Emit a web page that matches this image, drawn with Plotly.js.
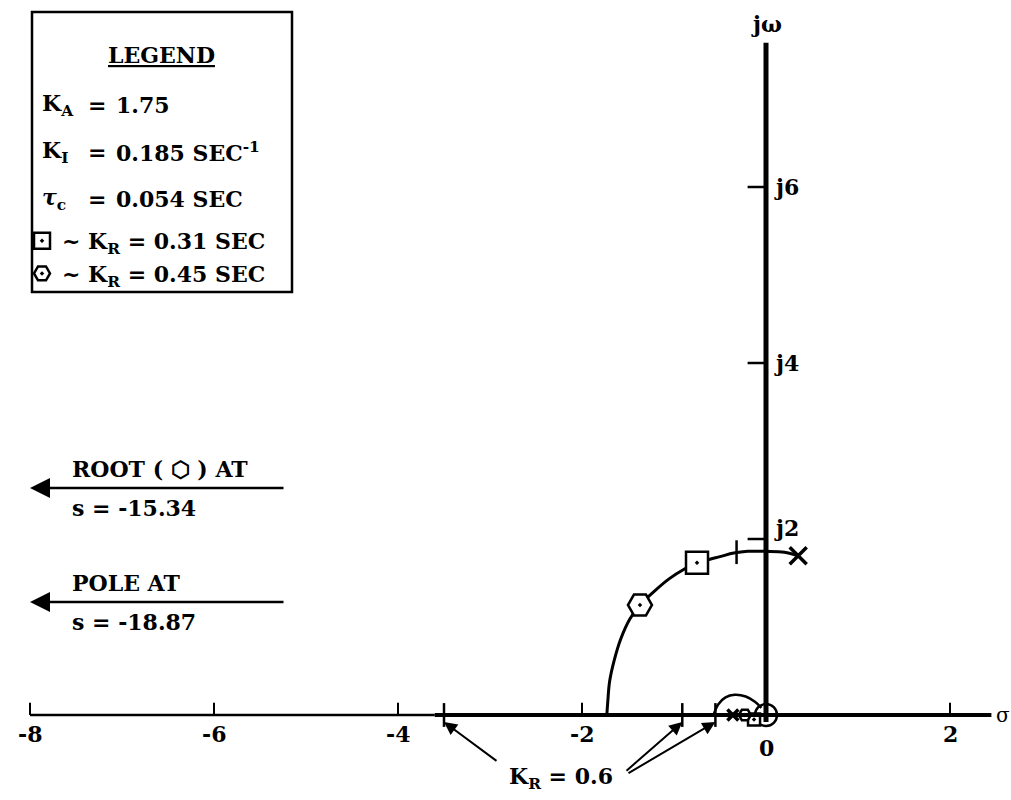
<!DOCTYPE html>
<html><head><meta charset="utf-8">
<script src="https://cdn.plot.ly/plotly-3.0.1.min.js"></script>
<style>html,body{margin:0;padding:0;background:#fff}</style>
</head><body><div id="chart" style="width:1011px;height:800px"></div>
<script>
// ---- data ----
const branchSigma = [0.35, 0.2, 0.0, -0.2, -0.35, -0.5, -0.65, -0.75, -0.9, -1.05, -1.2, -1.37, -1.48, -1.58, -1.65, -1.70, -1.72, -1.73];
const branchOmega = [1.81, 1.85, 1.86, 1.86, 1.84, 1.80, 1.76, 1.73, 1.65, 1.55, 1.42, 1.25, 1.09, 0.86, 0.62, 0.38, 0.15, 0.0];
const loopSigma = [-0.57, -0.52, -0.44, -0.34, -0.22, -0.12, -0.05];
const loopOmega = [0.0, 0.12, 0.2, 0.23, 0.21, 0.15, 0.08];
const poleSigma = [0.35, -0.36];
const poleOmega = [1.81, 0.0];
const zeroSigma = [0];
const zeroOmega = [0];
const rootK031Sigma = [-0.75, -0.13];
const rootK031Omega = [1.73, -0.05];
const rootK045Sigma = [-1.37, -0.23];
const rootK045Omega = [1.25, 0.0];
const gainTickSigma = [-3.5, -0.91, -0.55, -0.32];
const gainTickOmega = [0, 0, 0, 1.85];
const realTicks = [-8, -6, -4, -2, 0, 2];
const realTickLabels = ['-8', '-6', '-4', '-2', '0', '2'];
const imagTicks = [2, 4, 6];
const imagTickLabels = ['j2', 'j4', 'j6'];
const realAxisExtent = [-8, 2.45];
const imagAxisExtent = [0, 7.64];
const legendTitle = '<u>LEGEND</u>';
const paramLabels = ['K<sub>A</sub>', 'K<sub>I</sub>', '<i>τ</i><sub>c</sub>'];
const paramValues = ['1.75', '0.185 SEC<sup>-1</sup>', '0.054 SEC'];
const rootLabels = ['~ K<sub>R</sub> = 0.31 SEC', '~ K<sub>R</sub> = 0.45 SEC'];
const offLabels = ['ROOT ( ⬡ ) AT', 'POLE AT'];
const offValues = ['s = -15.34', 's = -18.87'];
const gainLabel = 'K<sub>R</sub> = 0.6';

// ---- pixel helpers (layout positions only) ----
const X = px => (px - 766) / 92;
const Y = py => (715 - py) / 88;
const FONT = {family: 'DejaVu Serif', size: 22, color: '#000', weight: 'bold'};
const BLACK = '#000';

const traces = [
  {x: branchSigma, y: branchOmega, mode: 'lines', line: {color: BLACK, width: 3, shape: 'spline'}, showlegend: false, hoverinfo: 'skip'},
  {x: loopSigma, y: loopOmega, mode: 'lines', line: {color: BLACK, width: 2.5, shape: 'spline'}, showlegend: false, hoverinfo: 'skip'},
  {x: gainTickSigma, y: gainTickOmega, mode: 'markers', marker: {symbol: 'line-ns-open', size: 17, color: BLACK, opacity: 1, line: {color: BLACK, width: 2.5}}, showlegend: false, cliponaxis: false},
  {x: poleSigma, y: poleOmega, mode: 'markers', marker: {symbol: 'x-thin-open', size: [17, 11], color: BLACK, opacity: 1, line: {color: BLACK, width: 3.5}}, showlegend: false, cliponaxis: false},
  {x: zeroSigma, y: zeroOmega, mode: 'markers', marker: {symbol: 'circle-open', size: 22, color: BLACK, opacity: 1, line: {color: BLACK, width: 2.5}}, showlegend: false, cliponaxis: false},
  {x: rootK031Sigma, y: rootK031Omega, mode: 'markers', name: rootLabels[0], legendgroup: 'a',
   marker: {symbol: 'square-dot', size: [22, 12], color: '#fff', opacity: 1, line: {color: BLACK, width: 2.5}}, cliponaxis: false},
  {x: rootK045Sigma, y: rootK045Omega, mode: 'markers', name: rootLabels[1], legendgroup: 'b',
   marker: {symbol: 'hexagon2-dot', size: [24, 12], color: '#fff', opacity: 1, line: {color: BLACK, width: 2.5}}, cliponaxis: false}
];

const shapes = [];
shapes.push({type: 'line', xref: 'x', yref: 'y', x0: realAxisExtent[0], x1: -3.6, y0: 0, y1: 0, line: {color: BLACK, width: 2.5}});
shapes.push({type: 'line', xref: 'x', yref: 'y', x0: -3.6, x1: realAxisExtent[1], y0: 0, y1: 0, line: {color: BLACK, width: 4}});
shapes.push({type: 'line', xref: 'x', yref: 'y', x0: 0, x1: 0, y0: imagAxisExtent[0] - 0.08, y1: imagAxisExtent[1], line: {color: BLACK, width: 5}});
realTicks.forEach(v => { if (v !== 0) shapes.push({type: 'line', xref: 'x', yref: 'y', x0: v, x1: v, y0: 0, y1: 0.14, line: {color: BLACK, width: 2}}); });
imagTicks.forEach(v => shapes.push({type: 'line', xref: 'x', yref: 'y', x0: -0.2, x1: 0, y0: v, y1: v, line: {color: BLACK, width: 2.5}}));
shapes.push({type: 'rect', xref: 'paper', yref: 'paper', x0: 32 / 1011, x1: 292 / 1011, y0: 1 - 292 / 800, y1: 1 - 12 / 800, line: {color: BLACK, width: 2.5}, fillcolor: 'rgba(0,0,0,0)'});

const ann = [];
const pAnn = (px, py, text, xanchor) => ({x: px / 1011, y: 1 - py / 800, xref: 'paper', yref: 'paper', xanchor: xanchor || 'center', yanchor: 'middle', text: text, showarrow: false, font: FONT});
realTicks.forEach((v, i) => ann.push({x: v, y: v === 0 ? Y(748) : Y(734), xref: 'x', yref: 'y', xanchor: 'center', yanchor: 'middle', text: realTickLabels[i], showarrow: false, font: FONT}));
imagTicks.forEach((v, i) => ann.push({x: X(772), y: v === 2 ? v + 0.13 : v, xref: 'x', yref: 'y', xanchor: 'left', yanchor: 'middle', text: imagTickLabels[i], showarrow: false, font: FONT}));
ann.push({x: 0, y: Y(24), xref: 'x', yref: 'y', xanchor: 'center', yanchor: 'middle', text: 'jω', showarrow: false, font: FONT});
ann.push({x: X(1003), y: 0, xref: 'x', yref: 'y', xanchor: 'center', yanchor: 'middle', text: 'σ', showarrow: false, font: {family: 'DejaVu Serif', size: 20, color: BLACK}});

ann.push(pAnn(161, 55, legendTitle));
const rowY = [105, 152, 199];
paramLabels.forEach((t, i) => {
  ann.push(pAnn(40, rowY[i], t, 'left'));
  ann.push(pAnn(97, rowY[i], '=', 'center'));
  ann.push(pAnn(114, rowY[i], paramValues[i], 'left'));
});

const offY = [488, 602];
offLabels.forEach((t, i) => {
  ann.push({x: X(30), y: Y(offY[i]), ax: X(285), ay: Y(offY[i]), xref: 'x', yref: 'y', axref: 'x', ayref: 'y', text: '', showarrow: true, arrowhead: 2, arrowsize: 1.6, arrowwidth: 2.5, arrowcolor: BLACK, standoff: 0, startstandoff: 0});
  ann.push({x: X(70), y: Y(offY[i] - 19), xref: 'x', yref: 'y', xanchor: 'left', yanchor: 'middle', text: t, showarrow: false, font: FONT});
  ann.push({x: X(70), y: Y(offY[i] + 20), xref: 'x', yref: 'y', xanchor: 'left', yanchor: 'middle', text: offValues[i], showarrow: false, font: FONT});
});

ann.push({x: X(561), y: Y(778), xref: 'x', yref: 'y', xanchor: 'center', yanchor: 'middle', text: gainLabel, showarrow: false, font: FONT});
const tails = [[498, 762], [625, 772], [627, 774]];
gainTickSigma.slice(0, 3).forEach((s, i) => {
  ann.push({x: s, y: Y(722), ax: X(tails[i][0]), ay: Y(tails[i][1]), xref: 'x', yref: 'y', axref: 'x', ayref: 'y', text: '', showarrow: true, arrowhead: 2, arrowsize: 1.3, arrowwidth: 2, arrowcolor: BLACK, standoff: 0});
});

const layout = {
  width: 1011, height: 800,
  margin: {l: 0, r: 0, t: 0, b: 0},
  paper_bgcolor: '#fff', plot_bgcolor: '#fff',
  xaxis: {range: [X(0), X(1011)], visible: false, fixedrange: true},
  yaxis: {range: [Y(800), Y(0)], visible: false, fixedrange: true},
  showlegend: true,
  legend: {x: 22 / 1011, y: 1 - 220 / 800, xanchor: 'left', yanchor: 'top', bgcolor: 'rgba(0,0,0,0)', borderwidth: 0,
           font: FONT, traceorder: 'grouped', tracegroupgap: 1, itemwidth: 30},
  shapes: shapes,
  annotations: ann
};

Plotly.newPlot('chart', traces, layout, {staticPlot: true});
</script>
</body></html>
